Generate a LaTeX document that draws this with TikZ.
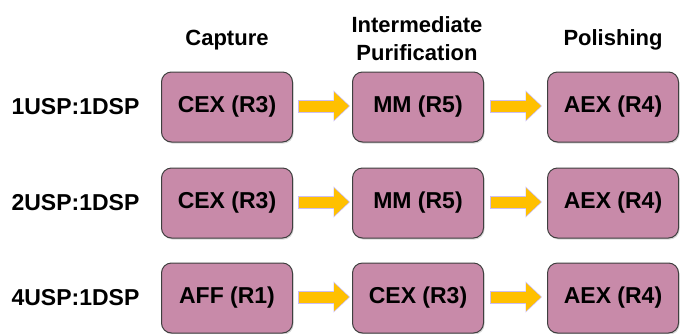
\documentclass[tikz,border=0pt]{standalone}
\usepackage{fontspec}
\setmainfont{Liberation Sans}
\usetikzlibrary{arrows.meta,shadows,calc}
\definecolor{boxfill}{HTML}{C88AA9}
\definecolor{boxline}{HTML}{3F3F3F}
\definecolor{arrowfill}{HTML}{FFC000}
\definecolor{halo}{HTML}{CBBDF2}
\begin{document}
\begin{tikzpicture}[x=1pt,y=-1pt,
 stage/.style={draw=boxline, line width=1pt, fill=boxfill, rounded corners=10pt,
   minimum width=131pt, minimum height=70pt, inner sep=0pt,
   font=\fontsize{23}{26}\selectfont\bfseries,
   drop shadow={opacity=0.3,shadow xshift=1pt,shadow yshift=-1.5pt}},
 lbl/.style={font=\fontsize{23}{28}\selectfont\bfseries, align=center, inner sep=0pt},
 head/.style={font=\fontsize{22}{28}\selectfont\bfseries, align=center, inner sep=0pt},
 flow/.style={line width=11pt, draw=arrowfill, -{Triangle[length=15pt,width=27pt]},
   preaction={draw=halo, line width=13pt, -{Triangle[length=16.5pt,width=30pt]},
     shorten <=-1pt, shorten >=-1pt}}
]
\useasboundingbox[fill=white] (0,0) rectangle (680,333);

% headers
\node[head] (h1) at (227,40) {Capture};
\node[head] (h2) at (417,39) {Intermediate\\Purification};
\node[head] (h3) at (613,40) {Polishing};

% row labels
\node[lbl] (r1) at (75.5,107) {1USP:1DSP};
\node[lbl] (r2) at (75.5,203) {2USP:1DSP};
\node[lbl] (r3) at (75.5,298) {4USP:1DSP};

% row 1
\node[stage] (a1) at (227,107) {CEX (R3)};
\node[stage] (b1) at (418,107) {MM (R5)};
\node[stage] (c1) at (613,107) {AEX (R4)};
% row 2
\node[stage] (a2) at (227,203) {CEX (R3)};
\node[stage] (b2) at (418,203) {MM (R5)};
\node[stage] (c2) at (613,203) {AEX (R4)};
% row 3
\node[stage] (a3) at (227,298) {AFF (R1)};
\node[stage] (b3) at (418,298) {CEX (R3)};
\node[stage] (c3) at (613,298) {AEX (R4)};

\foreach \r in {1,2,3}{
  \draw[flow] ($(a\r.east)+(6,-1)$) -- ($(b\r.west)+(-3,-1)$);
  \draw[flow] ($(b\r.east)+(7,-1)$) -- ($(c\r.west)+(-6,-1)$);
}
\end{tikzpicture}
\end{document}
